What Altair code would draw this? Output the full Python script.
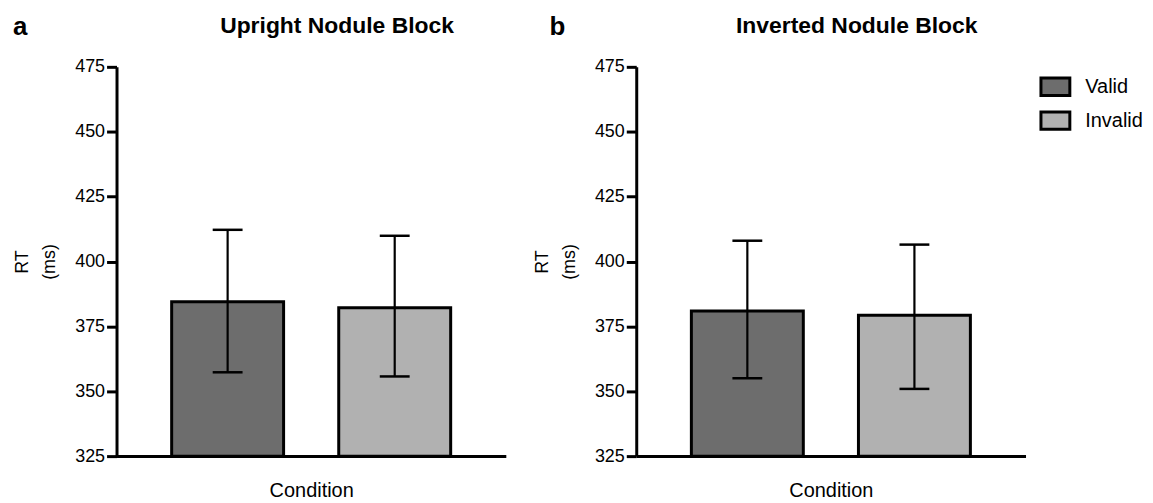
import altair as alt
import pandas as pd

conditions = ["Valid", "Invalid"]
upright_mean = [384.5, 382.2]
upright_low = [357.3, 355.7]
upright_high = [412.2, 409.9]
inverted_mean = [380.9, 379.3]
inverted_low = [355.0, 350.9]
inverted_high = [408.0, 406.5]
y_ticks = [325, 350, 375, 400, 425, 450, 475]
colors = ["#6d6d6d", "#b1b1b1"]

FONT = "Liberation Sans"


def panel(title, means, lows, highs, letter, letter_x, show_legend):
    df = pd.DataFrame({"cond": conditions, "mean": means, "low": lows, "high": highs})
    x_enc = alt.X(
        "cond:N", sort=conditions,
        scale=alt.Scale(paddingInner=0.33, paddingOuter=0.33),
        axis=alt.Axis(title="Condition", labels=False, ticks=False, domainWidth=3,
                      domainColor="black", titleFontSize=20, titleFontWeight="normal",
                      titlePadding=25, titleColor="black"),
    )
    y_scale = alt.Scale(domain=[325, 475], zero=False, nice=False)
    y_axis = alt.Axis(values=y_ticks, title=["RT", "(ms)"], grid=False, tickSize=10, tickWidth=3,
                      tickColor="black", domainWidth=3, domainColor="black", labelFontSize=18,
                      labelColor="black", labelPadding=2, titleFontSize=18, titleFontWeight="normal",
                      titleColor="black", titlePadding=16, titleLineHeight=27)
    base = alt.Chart(df).encode(x=x_enc)
    legend = alt.Legend(title=None, orient="none", legendX=405, legendY=4,
                        symbolType="M-1,-0.6H1V0.6H-1Z", symbolSize=841, symbolStrokeWidth=3,
                        symbolStrokeColor="black", symbolOpacity=1, labelFontSize=20,
                        labelColor="black", labelOffset=14, rowPadding=3, padding=0) if show_legend else None
    bars = base.mark_bar(stroke="black", strokeWidth=3, opacity=1).encode(
        y=alt.Y("mean:Q", scale=y_scale, axis=y_axis),
        y2=alt.datum(325),
        color=alt.Color("cond:N", sort=conditions,
                        scale=alt.Scale(domain=conditions, range=colors), legend=legend),
    )
    rule = base.mark_rule(color="black", strokeWidth=2.2).encode(
        y=alt.Y("low:Q", scale=y_scale, axis=y_axis), y2="high:Q")
    cap_lo = base.mark_tick(color="black", thickness=2.5, size=30, opacity=1).encode(
        y=alt.Y("low:Q", scale=y_scale, axis=y_axis))
    cap_hi = base.mark_tick(color="black", thickness=2.5, size=30, opacity=1).encode(
        y=alt.Y("high:Q", scale=y_scale, axis=y_axis))
    lab = alt.Chart(pd.DataFrame({"t": [letter]})).mark_text(
        fontSize=26, fontWeight="bold", align="left", baseline="alphabetic", color="black"
    ).encode(text="t:N", x=alt.value(letter_x), y=alt.value(-32))
    ttl = alt.Chart(pd.DataFrame({"t": [title]})).mark_text(
        fontSize=23, fontWeight="bold", align="center", baseline="alphabetic", color="black"
    ).encode(text="t:N", x=alt.value(221.5), y=alt.value(-34))
    return alt.layer(bars, rule, cap_lo, cap_hi, lab, ttl).properties(width=391, height=391)


pa = panel("Upright Nodule Block", upright_mean, upright_low, upright_high, "a", -104, False)
pb = panel("Inverted Nodule Block", inverted_mean, inverted_low, inverted_high, "b", -87, True)

chart = alt.hconcat(pa, pb, spacing=131, bounds="flush").resolve_scale(
    color="independent"
).properties(padding={"left": 5, "top": 5, "right": 2, "bottom": 2}).configure(
    font=FONT
).configure_view(stroke=None)

chart.save("out.html", embed_options={"renderer": "svg", "actions": False})
